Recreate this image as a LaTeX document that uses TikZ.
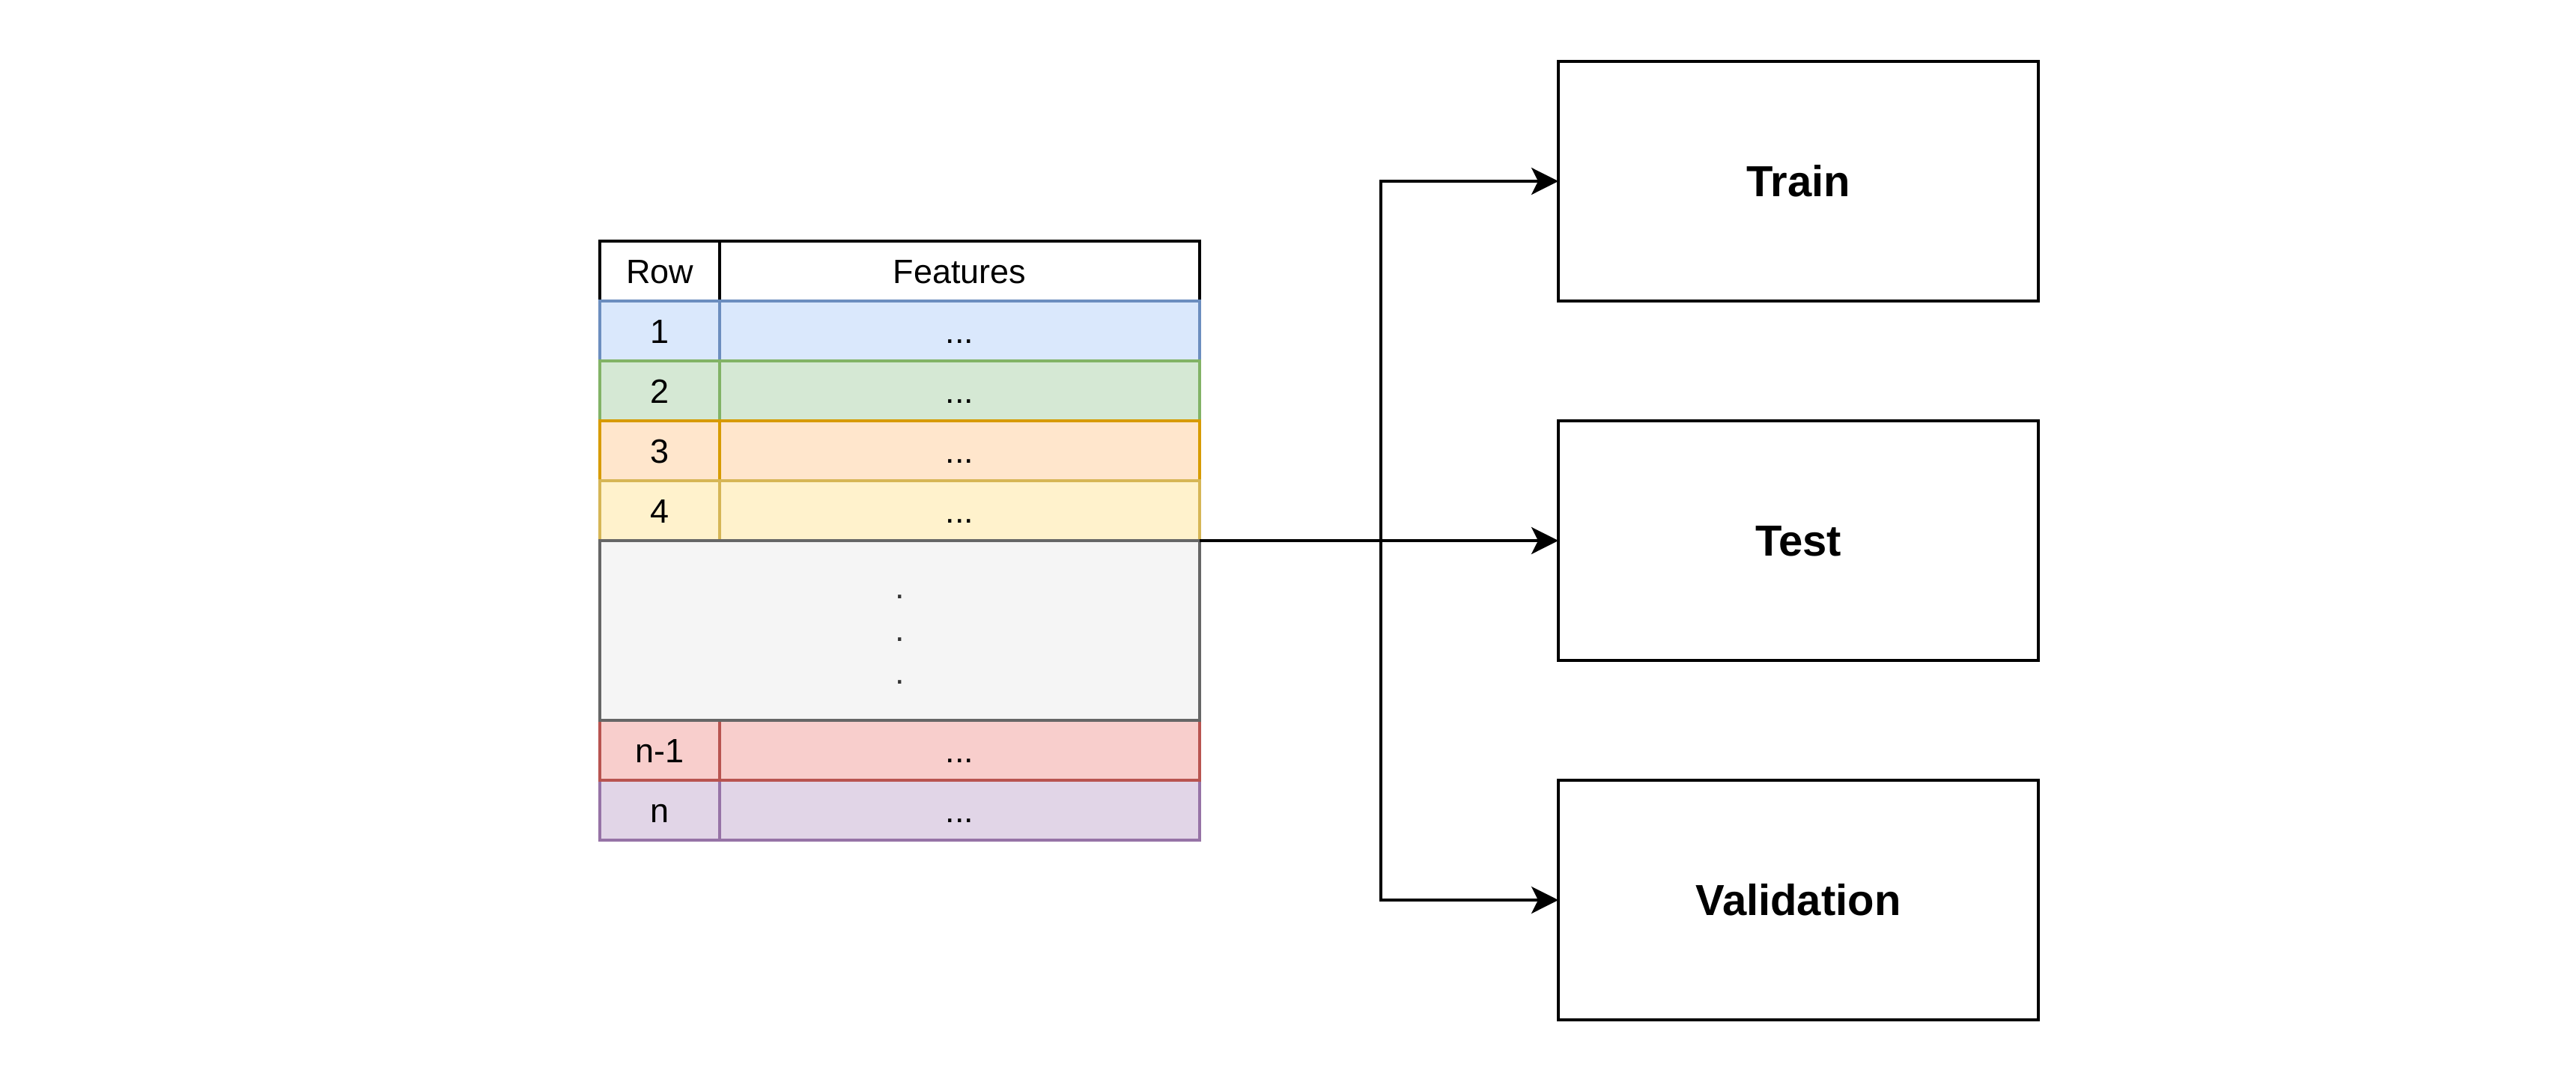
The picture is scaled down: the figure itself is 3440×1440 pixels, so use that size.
\documentclass[tikz,border=0pt]{standalone}
\usepackage{fontspec}
\setmainfont{Liberation Sans}
\usetikzlibrary{arrows.meta}
\definecolor{blueF}{HTML}{DAE8FC}\definecolor{blueS}{HTML}{6C8EBF}
\definecolor{greenF}{HTML}{D5E8D4}\definecolor{greenS}{HTML}{82B366}
\definecolor{orangeF}{HTML}{FFE6CC}\definecolor{orangeS}{HTML}{D79B00}
\definecolor{yellowF}{HTML}{FFF2CC}\definecolor{yellowS}{HTML}{D6B656}
\definecolor{greyF}{HTML}{F5F5F5}\definecolor{greyS}{HTML}{666666}\definecolor{greyT}{HTML}{333333}
\definecolor{redF}{HTML}{F8CECC}\definecolor{redS}{HTML}{B85450}
\definecolor{purpleF}{HTML}{E1D5E7}\definecolor{purpleS}{HTML}{9673A6}
\begin{document}
\begin{tikzpicture}[x=0.5pt,y=-0.5pt,
  cell/.style={rectangle, draw, line width=1.8pt, inner sep=0pt, outer sep=0pt,
    minimum height=40pt, text height=16.1pt, text depth=0pt,
    font=\fontsize{22.5pt}{27pt}\selectfont},
  rowcol/.style={cell, minimum width=80pt},
  featcol/.style={cell, minimum width=320.5pt},
  bigbox/.style={rectangle, draw, line width=1.9pt, inner sep=0pt, outer sep=0pt,
    minimum width=320.5pt, minimum height=160pt, text height=20.8pt, text depth=0pt,
    font=\fontsize{29pt}{35pt}\selectfont\bfseries},
  link/.style={line width=1.9pt, -{Stealth[length=18pt,width=18pt,inset=4.5pt]}}
]
\useasboundingbox (0,0) rectangle (3440,1440);

% header
\node[rowcol, fill=white] (h1) at (881,362) {Row};
\node[featcol, fill=white] (h2) at (1281.5,362) {Features};
% rows
\node[rowcol, fill=blueF, draw=blueS] (r1a) at (881,442) {1};
\node[featcol, fill=blueF, draw=blueS] (r1b) at (1281.5,442) {...};
\node[rowcol, fill=greenF, draw=greenS] (r2a) at (881,522) {2};
\node[featcol, fill=greenF, draw=greenS] (r2b) at (1281.5,522) {...};
\node[rowcol, fill=orangeF, draw=orangeS] (r3a) at (881,602) {3};
\node[featcol, fill=orangeF, draw=orangeS] (r3b) at (1281.5,602) {...};
\node[rowcol, fill=yellowF, draw=yellowS] (r4a) at (881,682) {4};
\node[featcol, fill=yellowF, draw=yellowS] (r4b) at (1281.5,682) {...};
\node[rowcol, fill=purpleF, draw=purpleS] (rna) at (881,1082) {n};
\node[featcol, fill=purpleF, draw=purpleS] (rnb) at (1281.5,1082) {...};
\node[rowcol, fill=redF, draw=redS] (rma) at (881,1002) {n-1};
\node[featcol, fill=redF, draw=redS] (rmb) at (1281.5,1002) {...};
\node[rectangle, draw=greyS, fill=greyF, line width=1.8pt, inner sep=0pt, outer sep=0pt,
  minimum width=400.5pt, minimum height=120pt] (grey) at (1201.5,842) {};
\node[inner sep=0pt, align=center, text=greyT, yshift=-6pt,
  font=\fontsize{22.5pt}{28.5pt}\selectfont] (dots) at (grey.center) {.\\.\\.};

% target boxes
\node[bigbox] (train) at (2401.5,242) {Train};
\node[bigbox] (test) at (2401.5,722) {Test};
\node[bigbox] (val) at (2401.5,1202) {Validation};

% connectors
\coordinate (split) at (1844,722);
\draw[line width=1.9pt] (grey.north east) -- (split);
\draw[link] (split) |- (train.west);
\draw[link] (split) -- (test.west);
\draw[link] (split) |- (val.west);
\end{tikzpicture}
\end{document}
